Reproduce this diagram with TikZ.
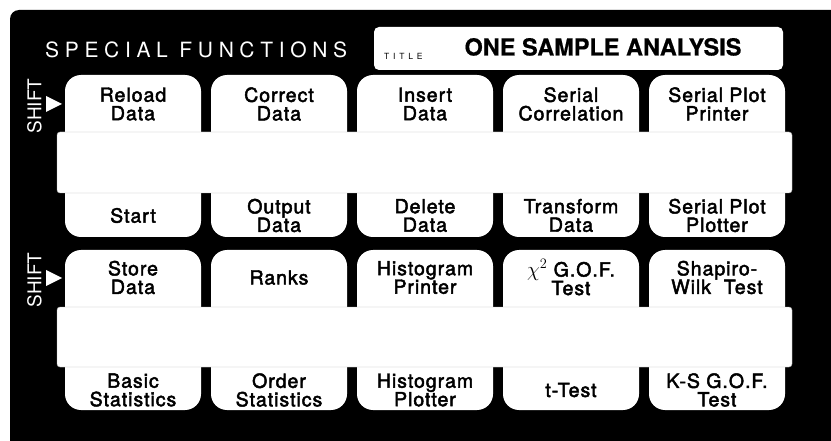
\documentclass[tikz,border=0pt]{standalone}
\usepackage{fontspec}
\setmainfont{TeX Gyre Heros}
\newfontfamily\spacedfont[LetterSpace=27]{TeX Gyre Heros}
\newfontfamily\tinyspaced[LetterSpace=45]{TeX Gyre Heros}
\newfontfamily\keyfont[LetterSpace=5,FakeBold=2.4]{TeX Gyre Heros}
\newfontfamily\titlebold[FakeBold=0.6]{TeX Gyre Heros Bold}
\begin{document}
\begin{tikzpicture}[x=1pt,y=-1pt,
  keytxt/.style={font=\keyfont\fontsize{19.5}{18.5}\selectfont, align=center, text=black, inner sep=0pt},
  keyshape/.style={fill=white, rounded corners=16pt},
  stripshape/.style={fill=white, draw=black!30, line width=0.4pt, rounded corners=3pt},
  shifttxt/.style={font=\fontsize{19}{19}\selectfont, text=white, rotate=90, inner sep=0pt},
  shiftarrow/.style={fill=white},
]
\useasboundingbox (0,0) rectangle (831,441);
\fill[white] (0,0) rectangle (831,441);
% panel
\fill[black] (10,441) -- (10,19) arc[start angle=180, end angle=270, radius=9] -- (831,10) -- (831,441) -- cycle;
% heading
\node[anchor=base west, inner sep=0pt, text=white, font=\spacedfont\fontsize{21}{21}\selectfont] (head) at (45,57.5) {SPECIAL FUNCTIONS};
\node[fill=white, rounded corners=5pt, minimum width=409pt, minimum height=43pt, inner sep=0pt] (titlebox) at (578.5,48.5) {};
\node[anchor=base west, inner sep=0pt, font=\tinyspaced\fontsize{8.5}{8.5}\selectfont] (titlelbl) at (384,60) {TITLE};
\node[anchor=base, inner sep=0pt, font=\titlebold\fontsize{23.5}{23.5}\selectfont] (titletxt) at (603,55.5) {ONE SAMPLE ANALYSIS};
% SHIFT markers
\node[shifttxt] (shift1) at (34.5,106) {SHIFT};
\node[shifttxt] (shift2) at (34.5,280) {SHIFT};
\coordinate (tip1) at (62,104);
\coordinate (tip2) at (62,278);
\fill[shiftarrow] (46,96) -- (tip1) -- (46,112) -- cycle;
\fill[shiftarrow] (46,270) -- (tip2) -- (46,286) -- cycle;
% key shapes
\foreach \i in {0,...,4}{
  \pgfmathsetmacro{\L}{65+146*\i}
  \pgfmathsetmacro{\R}{\L+136}
  \fill[keyshape] (\L,75) rectangle (\R,150);
  \fill[keyshape] (\L,175) rectangle (\R,237);
  \fill[keyshape] (\L,250) rectangle (\R,325);
  \fill[keyshape] (\L,350) rectangle (\R,410);
}
% strips
\filldraw[stripshape] (57,132) rectangle (792,193);
\filldraw[stripshape] (57,307) rectangle (792,367);
% labels
\foreach \i/\a/\b/\c/\d in {
  0/{Reload\\Data}/{Start}/{Store\\Data}/{Basic\\Statistics},
  1/{Correct\\Data}/{Output\\Data}/{Ranks}/{Order\\Statistics},
  2/{Insert\\Data}/{Delete\\Data}/{Histogram\\Printer}/{Histogram\\Plotter},
  3/{Serial\\Correlation}/{Transform\\Data}/{$\chi^{2}$\ G.O.F.\\Test}/{t-Test},
  4/{Serial Plot\\Printer}/{Serial Plot\\Plotter}/{Shapiro-\\Wilk\ \ Test}/{K-S G.O.F.\\Test}}{
  \pgfmathsetmacro{\C}{133+146*\i}
  \node[keytxt] (ua\i) at (\C,104) {\a};
  \node[keytxt] (la\i) at (\C,215.5) {\b};
  \node[keytxt] (ub\i) at (\C,277.5) {\c};
  \node[keytxt] (lb\i) at (\C,390) {\d};
}
\end{tikzpicture}
\end{document}
